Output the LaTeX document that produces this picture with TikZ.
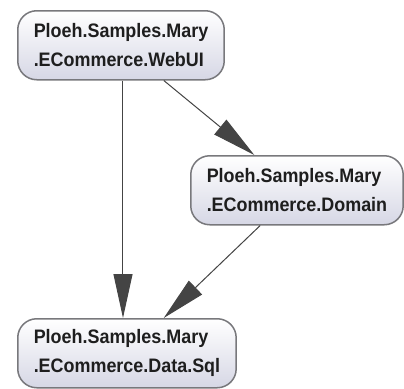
\documentclass[tikz,border=0pt]{standalone}
\usepackage{fontspec}
\setsansfont{Liberation Sans}
\newfontfamily\modfont[FakeStretch=0.92]{Liberation Sans}
\usepackage{tikz}
\usetikzlibrary{positioning,arrows.meta,calc,backgrounds}

\definecolor{boxline}{RGB}{120,120,124}
\definecolor{boxlow}{RGB}{214,215,229}
\definecolor{edgegray}{RGB}{68,68,68}
\definecolor{txtgray}{RGB}{30,30,30}

\begin{document}
\begin{tikzpicture}[
  x=1pt, y=-1pt,
  font=\sffamily\bfseries,
  mod/.style={draw=boxline, line width=1.5pt, rounded corners=19pt, top color=white, bottom color=boxlow, text=txtgray, align=left, font=\modfont\bfseries\fontsize{19.5}{29}\selectfont, inner xsep=16pt, minimum height=69pt},
  dep/.style={draw=edgegray, line width=1pt, -{Triangle[length=44pt, width=19pt]}, color=edgegray}
]
\useasboundingbox[fill=white] (0,0) rectangle (404,388);
\node[mod, anchor=north west] (webui) at (17,10) {Ploeh.Samples.Mary\\.ECommerce.WebUI};
\node[mod, anchor=north west] (domain) at (190,155) {Ploeh.Samples.Mary\\.ECommerce.Domain};
\node[mod, anchor=north west] (datasql) at (17,318) {Ploeh.Samples.Mary\\.ECommerce.Data.Sql};
\draw[dep] ([xshift=2pt]webui.south) -- ([xshift=2pt]webui.south |- datasql.north);
\draw[dep] (webui) -- (domain);
\draw[dep] (domain) -- (datasql);
\end{tikzpicture}
\end{document}
